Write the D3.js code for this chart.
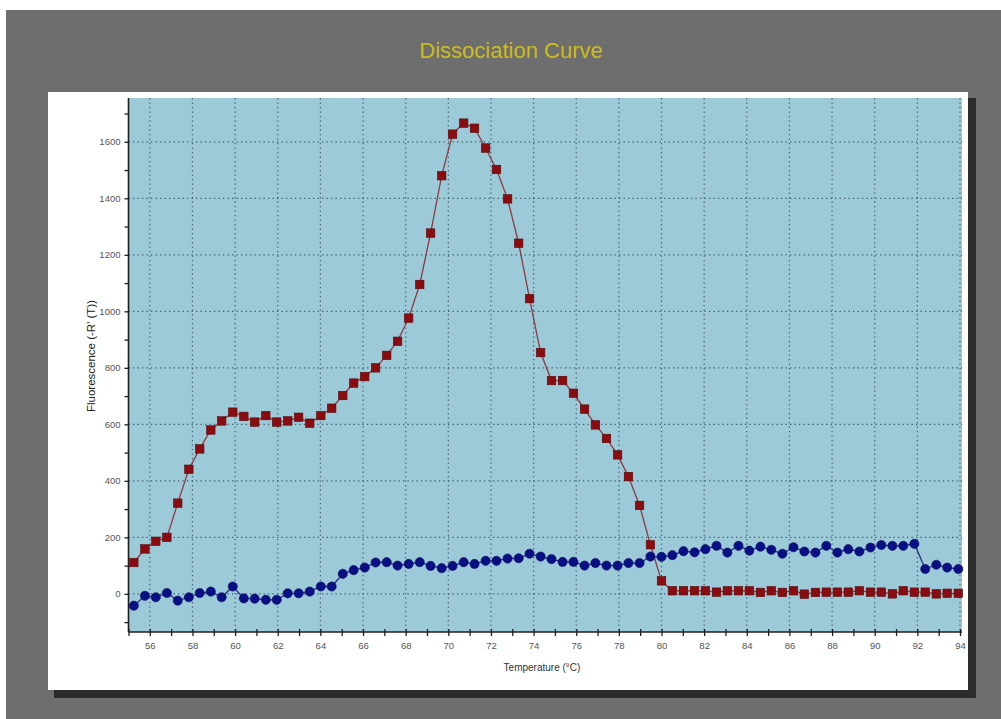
<!DOCTYPE html>
<html>
<head>
<meta charset="utf-8">
<script src="https://cdn.jsdelivr.net/npm/d3@7"></script>
<style>
  html, body { margin: 0; padding: 0; background: #ffffff; }
  svg { display: block; }
  text { font-family: "Liberation Sans", Arial, sans-serif; }
</style>
</head>
<body>
<svg id="chart" width="1001" height="719"></svg>
<script>
// Melt-curve readings: temperature (°C) and -dR/dT for two wells
const temps = [55.25, 55.77, 56.28, 56.80, 57.31, 57.83, 58.34, 58.86, 59.37, 59.89,
  60.41, 60.92, 61.44, 61.95, 62.47, 62.98, 63.50, 64.02, 64.53, 65.05,
  65.56, 66.08, 66.59, 67.11, 67.62, 68.14, 68.66, 69.17, 69.69, 70.20,
  70.72, 71.23, 71.75, 72.26, 72.78, 73.30, 73.81, 74.33, 74.84, 75.36,
  75.87, 76.39, 76.90, 77.42, 77.94, 78.45, 78.97, 79.48, 80.00, 80.51,
  81.03, 81.55, 82.06, 82.58, 83.09, 83.61, 84.12, 84.64, 85.15, 85.67,
  86.19, 86.70, 87.22, 87.73, 88.25, 88.76, 89.28, 89.80, 90.31, 90.83,
  91.34, 91.86, 92.37, 92.89, 93.40, 93.92];

const sampleWell = [111, 159, 186, 200, 321, 441, 513, 580, 612, 643,
  628, 608, 631, 608, 612, 625, 604, 631, 657, 702,
  746, 769, 800, 844, 894, 976, 1095, 1277, 1480, 1627,
  1666, 1648, 1578, 1502, 1398, 1241, 1045, 854, 755, 755,
  710, 654, 598, 550, 492, 415, 313, 174, 46, 11,
  11, 11, 11, 6, 11, 11, 11, 5, 11, 5,
  11, -1, 5, 6, 6, 6, 11, 6, 6, 0,
  11, 6, 6, 0, 2, 2];

const controlWell = [-42, -7, -12, 3, -24, -12, 3, 8, -12, 26,
  -16, -17, -21, -21, 2, 2, 8, 26, 26, 71,
  84, 93, 111, 112, 100, 106, 112, 99, 91, 99,
  112, 106, 117, 117, 125, 126, 142, 132, 123, 113,
  113, 100, 109, 100, 100, 109, 109, 132, 131, 137,
  151, 147, 158, 170, 146, 170, 153, 167, 156, 142,
  165, 150, 146, 170, 146, 158, 150, 164, 173, 170,
  170, 177, 88, 103, 93, 88];

const xTickLabels = [56, 58, 60, 62, 64, 66, 68, 70, 72, 74, 76, 78, 80, 82, 84, 86, 88, 90, 92, 94];
const yTickLabels = [0, 200, 400, 600, 800, 1000, 1200, 1400, 1600];

const svg = d3.select("#chart");

// Frame: grey backdrop, white card with a dark drop shadow
svg.append("rect").attr("x", 6).attr("y", 10).attr("width", 995).attr("height", 709).attr("fill", "#6e6e6e");
svg.append("rect").attr("x", 54).attr("y", 98).attr("width", 922).attr("height", 600).attr("fill", "#2c2c2c");
svg.append("rect").attr("x", 48).attr("y", 92).attr("width", 920).attr("height", 598).attr("fill", "#ffffff");

svg.append("text")
  .attr("x", 511).attr("y", 58)
  .attr("text-anchor", "middle")
  .attr("font-size", 22)
  .attr("fill", "#cbbb1e")
  .text("Dissociation Curve");

const plot = { left: 128.5, right: 962, top: 98, bottom: 632 };

const x = d3.scaleLinear().domain([55, 94]).range([128.5, 960]);
const y = d3.scaleLinear().domain([-135, 1755]).range([plot.bottom, plot.top]);

svg.append("rect")
  .attr("x", plot.left).attr("y", plot.top)
  .attr("width", plot.right - plot.left).attr("height", plot.bottom - plot.top)
  .attr("fill", "#9dcad9");

// Dotted grid at the labelled ticks
const grid = svg.append("g").attr("stroke", "#3f5d68").attr("stroke-width", 1.2)
  .attr("stroke-dasharray", "1.3,3.2");
grid.selectAll("line.v").data(xTickLabels).join("line")
  .attr("x1", d => x(d)).attr("x2", d => x(d))
  .attr("y1", plot.top).attr("y2", plot.bottom);
grid.selectAll("line.h").data(yTickLabels).join("line")
  .attr("x1", plot.left).attr("x2", plot.right)
  .attr("y1", d => y(d)).attr("y2", d => y(d));

// Axes
const xMinor = d3.range(55, 95, 1);
const xAxis = d3.axisBottom(x)
  .tickValues(xMinor)
  .tickSize(4)
  .tickPadding(6)
  .tickFormat(d => xTickLabels.includes(d) ? d : "");
const gx = svg.append("g").attr("transform", `translate(0,${plot.bottom})`).call(xAxis);
gx.select(".domain").attr("stroke", "#1e1e1e").attr("stroke-width", 1.6).attr("d", `M${plot.left},0H${plot.right}`);
gx.selectAll(".tick line").attr("y1", -3).attr("stroke", "#1e1e1e").attr("stroke-width", 1.3);
gx.selectAll(".tick text").attr("font-size", 9.5).attr("fill", "#555").attr("font-family", "Liberation Sans, Arial, sans-serif");

const yMinor = d3.range(-100, 1800, 100);
const yAxis = d3.axisLeft(y)
  .tickValues(yMinor)
  .tickSize(4)
  .tickPadding(4)
  .tickFormat(d => yTickLabels.includes(d) ? d : "");
const gy = svg.append("g").attr("transform", `translate(${plot.left},0)`).call(yAxis);
gy.select(".domain").attr("stroke", "#1e1e1e").attr("stroke-width", 1.6).attr("d", `M0,${plot.top}V${plot.bottom}`);
gy.selectAll(".tick line").attr("stroke", "#1e1e1e").attr("stroke-width", 1.3);
gy.selectAll(".tick text").attr("font-size", 9.5).attr("fill", "#555").attr("font-family", "Liberation Sans, Arial, sans-serif");

svg.append("text")
  .attr("transform", "translate(95,356) rotate(-90)")
  .attr("text-anchor", "middle")
  .attr("font-size", 11.5)
  .attr("fill", "#222")
  .text("Fluorescence (-R' (T))");

svg.append("text")
  .attr("x", 542).attr("y", 671)
  .attr("text-anchor", "middle")
  .attr("font-size", 10)
  .attr("fill", "#333")
  .text("Temperature (°C)");

// Series
const line = d3.line().x(d => x(d[0])).y(d => y(d[1]));
const controlPts = temps.map((t, i) => [t, controlWell[i]]);
const samplePts = temps.map((t, i) => [t, sampleWell[i]]);

svg.append("path").datum(controlPts)
  .attr("fill", "none").attr("stroke", "#24307e").attr("stroke-width", 1.3)
  .attr("d", line);
svg.append("path").datum(samplePts)
  .attr("fill", "none").attr("stroke", "#8c3a40").attr("stroke-width", 1.3)
  .attr("d", line);

svg.append("g").selectAll("circle").data(controlPts).join("circle")
  .attr("cx", d => x(d[0])).attr("cy", d => y(d[1])).attr("r", 4.6)
  .attr("fill", "#0b0f86").attr("stroke", "#0a0c5c").attr("stroke-width", 0.6);

const sq = 8.5;
svg.append("g").selectAll("rect").data(samplePts).join("rect")
  .attr("x", d => x(d[0]) - sq / 2).attr("y", d => y(d[1]) - sq / 2)
  .attr("width", sq).attr("height", sq)
  .attr("fill", "#8b0c10").attr("stroke", "#5a0a0a").attr("stroke-width", 0.6);
</script>
</body>
</html>
